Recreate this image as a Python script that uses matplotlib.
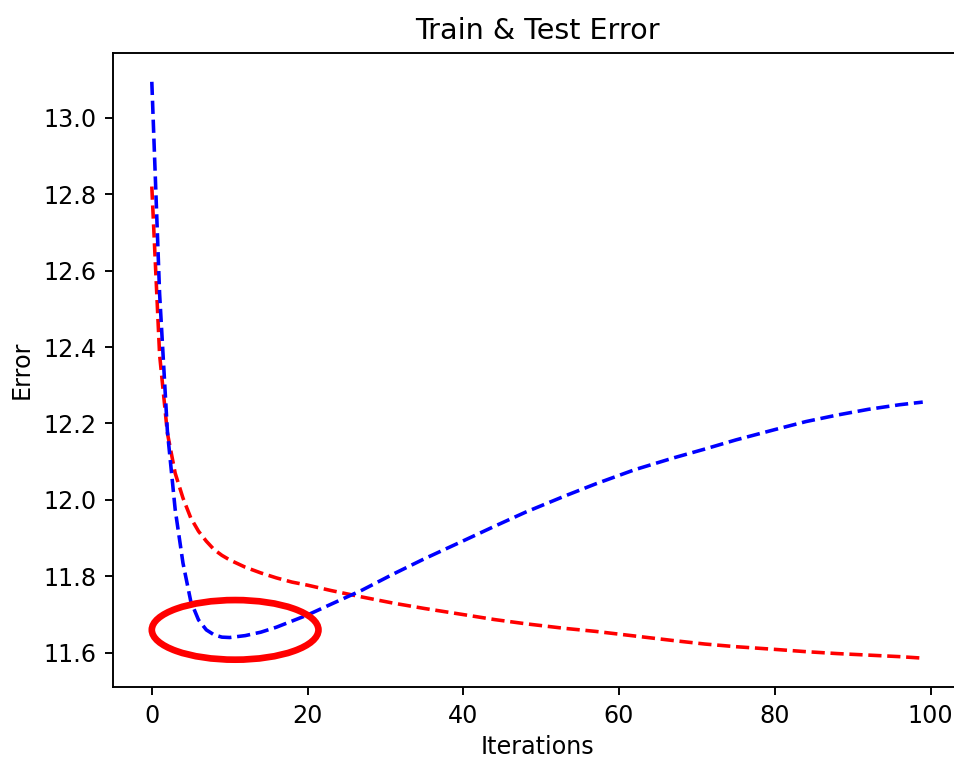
#!/usr/bin/env python3
"""Train & test error curves with the test minimum circled."""

import matplotlib

matplotlib.use("Agg")
import matplotlib.pyplot as plt
from matplotlib.patches import Ellipse

# values
iterations = [0, 1, 2, 3, 4, 5, 6, 7, 8, 9, 10, 12, 14, 16, 18, 20, 23, 27, 31, 35,
              40, 44, 48, 53, 57, 62, 67, 71, 75, 80, 84, 88, 92, 96, 99]
train_error = [12.82, 12.38, 12.175, 12.07, 12.005, 11.953, 11.918, 11.892, 11.870,
               11.855, 11.843, 11.824, 11.809, 11.796, 11.785, 11.777, 11.763, 11.746,
               11.730, 11.716, 11.700, 11.687, 11.676, 11.664, 11.656, 11.644, 11.632,
               11.623, 11.616, 11.609, 11.603, 11.598, 11.594, 11.590, 11.586]
test_error = [13.094, 12.54, 12.18, 11.975, 11.835, 11.735, 11.686, 11.66, 11.647,
              11.641, 11.640, 11.645, 11.654, 11.667, 11.683, 11.699, 11.727, 11.764,
              11.806, 11.846, 11.893, 11.931, 11.968, 12.010, 12.042, 12.079, 12.110,
              12.133, 12.157, 12.184, 12.205, 12.222, 12.237, 12.249, 12.256]

# circled region around the test minimum
circle_center = (10.7, 11.66)
circle_size = (21.4, 0.156)


def main() -> None:
    dpi = 171.5
    fig = plt.figure(figsize=(955 / dpi, 758 / dpi), dpi=dpi)
    # the original screenshot cuts the right edge of the axes off
    ax = fig.add_axes([0.1186, 0.0937, 0.888, 0.8364])

    ax.plot(iterations, train_error, "r--")
    ax.plot(iterations, test_error, "b--")

    ax.set_title("Train & Test Error")
    ax.set_xlabel("Iterations", labelpad=3)
    ax.set_ylabel("Error")

    ring = Ellipse(circle_center, circle_size[0], circle_size[1],
                   fill=False, edgecolor="red", linewidth=2.8, zorder=5)
    ax.add_artist(ring)

    fig.savefig("out.png", dpi=dpi)
    plt.close(fig)


if __name__ == "__main__":
    main()
